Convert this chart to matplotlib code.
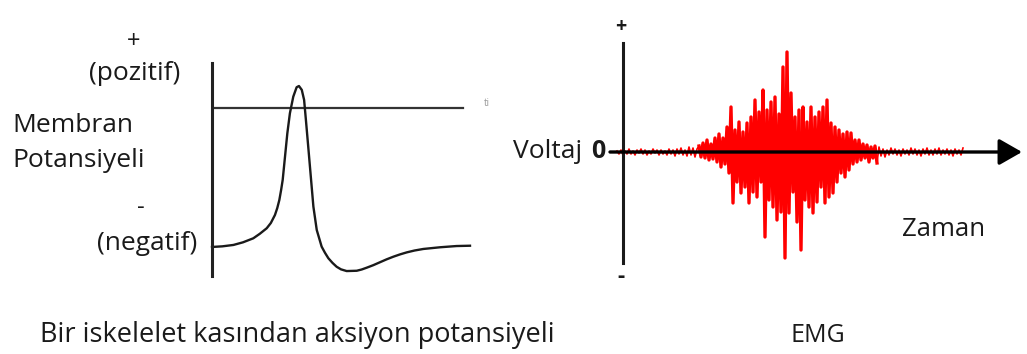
import matplotlib
matplotlib.use("Agg")
import matplotlib.pyplot as plt
import numpy as np

plt.rcParams['font.family'] = ['Open Sans', 'DejaVu Sans']

# action potential of a skeletal muscle fibre (time in ms, membrane potential in mV)
ap_t = [0.0, 0.4, 0.83, 1.2, 1.60, 1.85, 2.12, 2.28, 2.44, 2.53, 2.61, 2.68, 2.74, 2.83,
        2.92, 3.02, 3.15, 3.28, 3.37, 3.48, 3.57, 3.64, 3.73, 3.83, 3.93, 4.06, 4.25,
        4.38, 4.51, 4.67, 4.83, 5.0, 5.22, 5.61, 5.8, 6.00, 6.25, 6.51, 6.77, 7.03,
        7.29, 7.55, 7.85, 8.19, 8.84, 9.48, 10.0]
ap_v = [-90, -89.6, -88.7, -87, -84.4, -81.5, -77.9, -74.5, -69.3, -64.8, -59.6, -53, -46.6, -31.5,
        -16.4, -3.4, 7.3, 13.4, 14.2, 11.7, 5.2, -7.8, -25.1, -44.5, -63.9, -79, -89.8,
        -93.8, -97.3, -100.3, -102.8, -104.5, -105.6, -105.4, -104.6, -103.4, -101.8, -99.9, -98, -96.3,
        -94.8, -93.5, -92.3, -91.3, -90.2, -89.4, -89.2]

# EMG samples (arbitrary units), one every 2 time units starting at -6
emg_start = -6
emg_step = 2
emg_quiet_a = [1, -2, 2, -3, 1, -2, 3, -2, 1, -3, 2, -1, 3, -2, 2, -3, 1, -2, 3, -1,
               2, -3, 2, -2, 1, -3, 3, -2, 2, -4, 3, -2, 4, -3, 2, -4, 5, -3, 4, -5, 3]
emg_rise = [6, -5, 9, -6, 12, -8, 8, -7, 14, -10]
emg_burst = [18, -15, 14, -12, 25, -21, 45, -51, 22, -30, 30, -41, 20, -35, 29, -51,
             35, -40, 52, -45, 40, -30, 62, -85, 42, -48, 50, -55, 55, -68, 38, -60,
             85, -106, 100, -61, 59, -40, 35, -70, 42, -98, 45, -48, 30, -55, 45, -61,
             35, -50, 40, -35, 45, -51, 52, -45, 29, -41, 25, -30, 22, -21, 18, -25,
             20, -18, 19, -12, 12, -10, 12, -8, 8, -6, 7, -10, 5, -6, 6, -11]
emg_quiet_b = [5, -4, 3, -5, 2, -3, 4, -2, 3, -3, 2, -4, 3, -2, 2, -3, 4, -2, 3, -3,
               2, -4, 3, -2, 4, -3, 2, -3, 3, -2, 4, -3, 2, -2, 3, -3, 2, -4, 3, -2,
               2, -3, 4]

emg_v = emg_quiet_a + emg_rise + emg_burst + emg_quiet_b
emg_t = emg_start + emg_step * np.arange(len(emg_v))
# burst part is drawn heavier than the quiet baseline
b0 = len(emg_quiet_a)
b1 = b0 + len(emg_rise) + len(emg_burst)

W, H = 1027, 354
fig = plt.figure(figsize=(W / 100, H / 100), dpi=100)
fig.patch.set_facecolor('white')


def box(x0, y0, x1, y1):
    return [x0 / W, 1 - y1 / H, (x1 - x0) / W, (y1 - y0) / H]


def label(x, y, s, **kw):
    kw.setdefault('color', '#1a1a1a')
    kw.setdefault('fontsize', 19)
    kw.setdefault('va', 'center')
    fig.text(x / W, 1 - y / H, s, **kw)


# left panel
ax1 = fig.add_axes(box(212, 63, 470, 276))
ax1.set_xlim(0, 10)
ax1.set_ylim(-108.8, 29.1)
for s in ['top', 'right', 'bottom']:
    ax1.spines[s].set_visible(False)
ax1.spines['left'].set_linewidth(2.2)
ax1.spines['left'].set_color('#222222')
ax1.set_xticks([])
ax1.set_yticks([])
ax1.patch.set_alpha(0)
ax1.axhline(0, xmin=0, xmax=(463 - 212) / (470 - 212), color='#333333', lw=1.6)
ax1.plot(ap_t, ap_v, color='#1a1a1a', lw=1.7, clip_on=False)

label(134, 42, '+', ha='center', fontsize=17)
label(135, 74, '(pozitif)', ha='center')
label(12, 126, 'Membran', ha='left')
label(12, 160, 'Potansiyeli', ha='left')
label(141, 208, '-', ha='center', fontsize=17)
label(147, 243, '(negatif)', ha='center')
label(487, 104, 'ti', ha='center', fontsize=7, color='#999999')

# right panel
ax2 = fig.add_axes(box(600, 30, 1027, 290))
ax2.set_xlim(-23, 404)
ax2.set_ylim(-138, 122)
ax2.axis('off')
ax2.plot(emg_t[:b0 + 1], emg_v[:b0 + 1], color='#ff0000', lw=1.2, zorder=2)
ax2.plot(emg_t[b0:b1], emg_v[b0:b1], color='#ff0000', lw=2.4, zorder=2)
ax2.plot(emg_t[b1 - 1:], emg_v[b1 - 1:], color='#ff0000', lw=1.2, zorder=2)
ax2.axvline(0, ymin=(290 - 263) / 260, ymax=(290 - 43) / 260, color='#1a1a1a', lw=2.2, zorder=3)
ax2.annotate('', xy=(1022 - 623, 0), xytext=(610 - 623, 0),
             arrowprops=dict(arrowstyle='-|>,head_length=0.7,head_width=0.4', lw=2.4,
                             color='black', mutation_scale=20, shrinkA=0, shrinkB=0),
             zorder=4)

label(621, 27, '+', ha='center', fontsize=14, fontweight='bold')
label(621, 276, '-', ha='center', fontsize=16, fontweight='bold')
label(513, 152, 'Voltaj', ha='left', fontsize=19)
label(598, 152, '0', ha='center', fontsize=18, fontweight='bold')
label(944, 229, 'Zaman', ha='center', fontsize=18.5)

# captions
label(297, 335, 'Bir iskelelet kasından aksiyon potansiyeli', ha='center', fontsize=19.5)
label(818, 335, 'EMG', ha='center', fontsize=18)

fig.savefig('out.png', dpi=100, facecolor='white')
